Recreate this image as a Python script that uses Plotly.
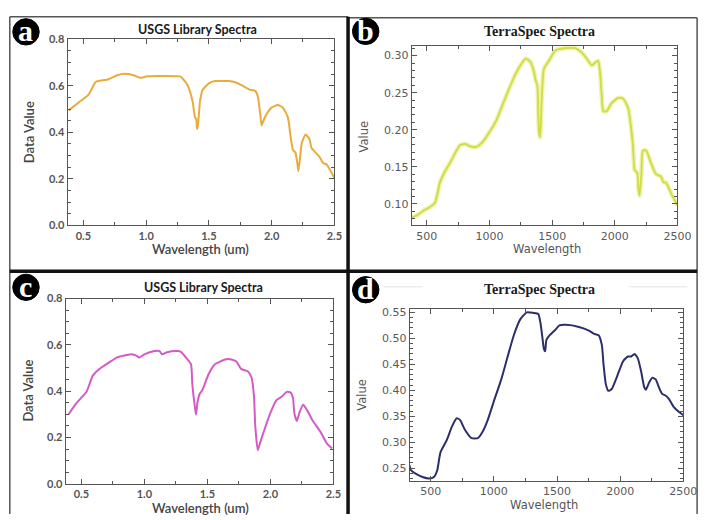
import plotly.graph_objects as go

W, H = 716, 520

# ---------------- data ----------------
a_wl = [0.383, 0.46, 0.54, 0.59, 0.6, 0.70, 0.77, 0.83, 0.90, 0.955, 1.01, 1.14, 1.27, 1.29, 1.33, 1.37,
        1.39, 1.40, 1.405, 1.41, 1.43, 1.45, 1.50, 1.55, 1.66, 1.71, 1.76, 1.83, 1.87, 1.89, 1.91, 1.92,
        1.93, 1.96, 2.0, 2.05, 2.09, 2.13, 2.15, 2.17, 2.19, 2.205, 2.213, 2.225, 2.24, 2.27, 2.30, 2.32,
        2.38, 2.41, 2.44, 2.50]
a_val = [0.494, 0.527, 0.561, 0.61, 0.617, 0.628, 0.645, 0.651, 0.645, 0.634, 0.641, 0.642, 0.64, 0.631,
         0.603, 0.534, 0.464, 0.457, 0.42, 0.415, 0.534, 0.582, 0.61, 0.62, 0.62, 0.615, 0.603, 0.582,
         0.578, 0.554, 0.478, 0.429, 0.443, 0.478, 0.506, 0.517, 0.506, 0.464, 0.387, 0.324, 0.313,
         0.268, 0.233, 0.282, 0.352, 0.39, 0.373, 0.331, 0.296, 0.268, 0.261, 0.205]

b_wl = [374, 421, 474, 526, 566, 605, 645, 684, 724, 763, 803, 842, 895, 947, 1000, 1053, 1105, 1158,
        1210, 1263, 1289, 1329, 1355, 1368, 1382, 1390, 1395, 1403, 1410, 1416, 1434, 1474, 1526, 1605,
        1684, 1737, 1776, 1816, 1847, 1868, 1882, 1895, 1908, 1934, 1974, 2026, 2066, 2105, 2126, 2145,
        2158, 2179, 2189, 2197, 2211, 2224, 2250, 2289, 2329, 2368, 2389, 2408, 2447, 2487, 2500]
b_val = [0.081, 0.0846, 0.091, 0.096, 0.102, 0.129, 0.144, 0.155, 0.168, 0.179, 0.181, 0.178, 0.177,
         0.184, 0.197, 0.212, 0.234, 0.256, 0.276, 0.291, 0.296, 0.291, 0.278, 0.267, 0.26, 0.221, 0.197,
         0.19, 0.208, 0.238, 0.282, 0.293, 0.307, 0.31, 0.31, 0.304, 0.296, 0.287, 0.291, 0.293, 0.278,
         0.247, 0.225, 0.225, 0.236, 0.243, 0.242, 0.23, 0.208, 0.177, 0.146, 0.142, 0.12, 0.111, 0.137,
         0.172, 0.172, 0.155, 0.14, 0.137, 0.129, 0.129, 0.115, 0.102, 0.098]

c_wl = [0.397, 0.46, 0.54, 0.59, 0.64, 0.72, 0.78, 0.86, 0.90, 0.94, 0.96, 1.0, 1.08, 1.12, 1.14, 1.18,
        1.26, 1.29, 1.33, 1.37, 1.38, 1.40, 1.41, 1.42, 1.44, 1.46, 1.51, 1.56, 1.64, 1.69, 1.73, 1.77,
        1.82, 1.85, 1.87, 1.88, 1.90, 1.92, 1.95, 2.0, 2.05, 2.09, 2.13, 2.16, 2.18, 2.19, 2.21, 2.23,
        2.26, 2.29, 2.33, 2.40, 2.45, 2.49]
c_val = [0.299, 0.348, 0.397, 0.467, 0.495, 0.524, 0.545, 0.556, 0.559, 0.552, 0.545, 0.559, 0.573,
         0.573, 0.559, 0.568, 0.573, 0.57, 0.545, 0.516, 0.432, 0.334, 0.299, 0.348, 0.39, 0.404, 0.474,
         0.516, 0.537, 0.537, 0.528, 0.495, 0.486, 0.46, 0.376, 0.25, 0.145, 0.18, 0.229, 0.306, 0.362,
         0.376, 0.397, 0.394, 0.369, 0.306, 0.271, 0.306, 0.341, 0.32, 0.278, 0.222, 0.173, 0.152]

d_wl = [332, 345, 384, 435, 487, 526, 552, 577, 629, 668, 706, 732, 771, 823, 874, 913, 952, 1003, 1055,
        1106, 1158, 1210, 1261, 1313, 1352, 1370, 1385, 1395, 1406, 1416, 1442, 1481, 1519, 1571, 1674,
        1752, 1790, 1829, 1855, 1868, 1886, 1906, 1932, 1971, 2023, 2061, 2087, 2113, 2139, 2165, 2190,
        2203, 2229, 2255, 2281, 2306, 2332, 2358, 2384, 2423, 2461, 2500]
d_val = [0.255, 0.246, 0.239, 0.233, 0.23, 0.233, 0.246, 0.28, 0.305, 0.33, 0.346, 0.343, 0.324, 0.308,
         0.308, 0.321, 0.343, 0.381, 0.418, 0.462, 0.506, 0.537, 0.55, 0.549, 0.547, 0.528, 0.50, 0.481,
         0.475, 0.497, 0.506, 0.515, 0.525, 0.526, 0.522, 0.515, 0.509, 0.506, 0.487, 0.45, 0.412, 0.399,
         0.402, 0.424, 0.456, 0.465, 0.465, 0.47, 0.462, 0.437, 0.406, 0.401, 0.415, 0.424, 0.421, 0.406,
         0.393, 0.39, 0.384, 0.368, 0.359, 0.352]

usgs_title = "USGS Library Spectra"
terra_title = "TerraSpec Spectra"
badges = ["a", "b", "c", "d"]


def px(x):
    return x / W


def py(y):
    return 1 - y / H


def ln(color, width):
    return dict(color=color, width=width, shape="spline", smoothing=0.5)


fig = go.Figure()
fig.add_trace(go.Scatter(x=a_wl, y=a_val, mode="lines", line=ln("#E9AC3C", 2),
                         xaxis="x", yaxis="y", showlegend=False))
fig.add_trace(go.Scatter(x=b_wl, y=b_val, mode="lines", line=ln("#EEF3A8", 4.5),
                         xaxis="x2", yaxis="y2", showlegend=False))
fig.add_trace(go.Scatter(x=b_wl, y=b_val, mode="lines", line=ln("#CEDC4A", 1.8),
                         xaxis="x2", yaxis="y2", showlegend=False))
fig.add_trace(go.Scatter(x=c_wl, y=c_val, mode="lines", line=ln("#D45BC6", 2),
                         xaxis="x3", yaxis="y3", showlegend=False))
fig.add_trace(go.Scatter(x=d_wl, y=d_val, mode="lines", line=ln("#2A2F6C", 2),
                         xaxis="x4", yaxis="y4", showlegend=False))

usgs_tick = dict(family="Lato", size=11, color="#555555", weight=700)
terra_tick = dict(family="DejaVu Sans", size=11, color="#5a5a5a")


def ax(domain, rng, dtick, minor_dtick, font, anchor, tickformat=None):
    d = dict(domain=domain, range=rng, dtick=dtick, tick0=0, showgrid=False, zeroline=False,
             showline=True, linecolor="#555555", linewidth=1.2, mirror="allticks",
             ticks="inside", ticklen=5, tickwidth=1, tickcolor="#555555", tickfont=font,
             anchor=anchor,
             minor=dict(ticks="inside", dtick=minor_dtick, ticklen=3, tickcolor="#555555", showgrid=False))
    if tickformat:
        d["tickformat"] = tickformat
    return d


fig.update_layout(
    width=W, height=H, margin=dict(l=0, r=0, t=0, b=0),
    paper_bgcolor="white", plot_bgcolor="white",
    xaxis=ax([px(69), px(341)], [0.375, 2.5], 0.5, 0.25, usgs_tick, "y", ".1f"),
    yaxis=ax([py(224), py(33)], [0.0, 0.8], 0.2, 0.05, usgs_tick, "x", ".1f"),
    xaxis2=ax([px(420), px(691)], [380, 2500], 500, 250, terra_tick, "y2"),
    yaxis2=ax([py(224), py(40)], [0.071, 0.313], 0.05, 0.01, terra_tick, "x2", ".2f"),
    xaxis3=ax([px(67), px(340)], [0.375, 2.5], 0.5, 0.25, usgs_tick, "y3", ".1f"),
    yaxis3=ax([py(489), py(299)], [0.0, 0.8], 0.2, 0.05, usgs_tick, "x3", ".1f"),
    xaxis4=ax([px(418), px(697)], [335, 2500], 500, 250, terra_tick, "y4"),
    yaxis4=ax([py(486), py(310)], [0.2256, 0.556], 0.05, 0.01, terra_tick, "x4", ".2f"),
)

shapes = []
# thin panel borders
for (x0, y0, x1, y1) in [(10, 10, 10, 520), (10, 10, 355, 10), (355, 11, 711, 11), (711, 11, 711, 520)]:
    shapes.append(dict(type="line", xref="paper", yref="paper", x0=px(x0), y0=py(y0), x1=px(x1), y1=py(y1),
                       line=dict(color="#555555", width=1.5)))
# thick dividers
shapes.append(dict(type="line", xref="paper", yref="paper", x0=px(355), y0=py(10), x1=px(355), y1=py(520),
                   line=dict(color="#111111", width=3.5)))
shapes.append(dict(type="line", xref="paper", yref="paper", x0=px(10), y0=py(271), x1=px(711), y1=py(271),
                   line=dict(color="#111111", width=3.5)))
# faint lines beside d title
for (x0, x1) in [(391, 431), (641, 701)]:
    shapes.append(dict(type="line", xref="paper", yref="paper", x0=px(x0), y0=py(287), x1=px(x1), y1=py(287),
                       line=dict(color="#e4e4e4", width=1)))
# badges
centers = [(26.5, 25.5), (373, 25), (26.5, 287.5), (373, 290)]
r = 13.5
for (cx, cy) in centers:
    shapes.append(dict(type="circle", xref="paper", yref="paper", x0=px(cx - r), x1=px(cx + r),
                       y0=py(cy + r), y1=py(cy - r), fillcolor="#000000", line=dict(color="#000000", width=1)))
fig.update_layout(shapes=shapes)

ann = []


def text(x, y, t, font, angle=0):
    ann.append(dict(x=px(x), y=py(y), xref="paper", yref="paper", text=t, showarrow=False,
                    xanchor="center", yanchor="middle", textangle=angle, font=font))


for (cx, cy), letter in zip(centers, badges):
    text(cx, cy - 1, "<b>%s</b>" % letter, dict(family="Liberation Serif", size=30, color="#FFFFFF"))

usgs_title_font = dict(family="Lato", size=12.5, color="#1a1a1a", weight=700)
terra_title_font = dict(family="Liberation Serif", size=14, color="#1a1a1a", weight=700)
usgs_axis_font = dict(family="Lato", size=13, color="#444444", weight=600)
terra_axis_font = dict(family="DejaVu Sans", size=11.5, color="#555555")

text(201, 23, usgs_title, usgs_title_font)
text(208, 288, usgs_title, usgs_title_font)
text(550, 25, terra_title, terra_title_font)
text(550, 290, terra_title, terra_title_font)

text(29, 128, "Data Value", usgs_axis_font, -90)
text(205, 248, "Wavelength (um)", usgs_axis_font)
text(29, 393, "Data Value", usgs_axis_font, -90)
text(205, 514, "Wavelength (um)", usgs_axis_font)

text(371, 133, "Value", terra_axis_font, -90)
text(558, 248, "Wavelength", terra_axis_font)
text(369, 398, "Value", terra_axis_font, -90)
text(555, 511, "Wavelength", terra_axis_font)

fig.update_layout(annotations=ann)

fig.write_html("out.html")
